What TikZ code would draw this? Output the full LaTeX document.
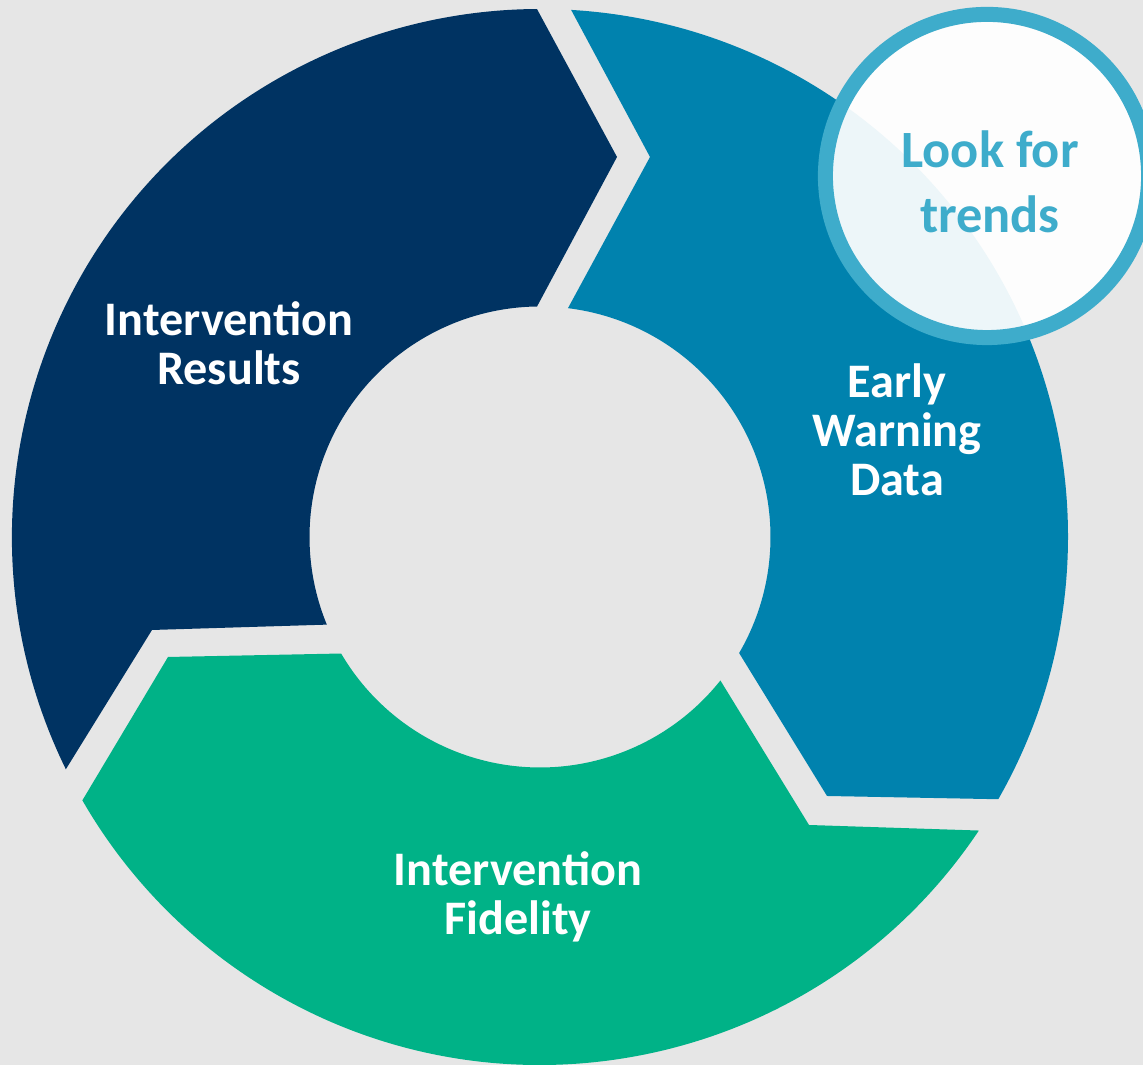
\documentclass[tikz,border=0pt]{standalone}
\usepackage{fontspec}
\setmainfont{Carlito}
\usepackage{tikz}
\usetikzlibrary{
  	positioning,
  	calc,
  	shapes
  }
\definecolor{bggray}{HTML}{E6E6E6}
\definecolor{resnavy}{HTML}{003362}
\definecolor{ewblue}{HTML}{0082AE}
\definecolor{fidgreen}{HTML}{00B287}
\definecolor{trendblue}{HTML}{3EACCB}

\begin{document}
\begin{tikzpicture}[x=.01cm, y=.01cm,
    every node/.style={font=\bfseries},
    steplabel/.style={text=white, align=center, font=\bfseries\fontsize{13.7}{13.9}\selectfont},
    trendring/.style={circle, draw=trendblue, line width=.15cm, fill=white, fill opacity=.93,
      minimum size=3.23cm},
    trendtext/.style={text=trendblue, align=center, font=\bfseries\fontsize{14.9}{18.6}\selectfont}]
	\useasboundingbox (0,0) rectangle (1143,1065);
	\fill[bggray] (0,0) rectangle (1143,1065);
	\coordinate (c) at (540,528);
%
	\coordinate (navytip) at (617,908);
	\coordinate (navytail) at (152,435);
	\fill[resnavy] ($(c)+(206.1:528)$) arc[start angle=206.1, end angle=90.33, radius=528]
		-- (navytip) -- ($(c)+(90.74:230.5)$) arc[start angle=90.74, end angle=202.35, radius=230.5]
		-- (navytail) -- cycle;
%
	\coordinate (bluetip) at (827,269);
	\coordinate (bluetail) at (650,908);
	\fill[ewblue] ($(c)+(86.62:528)$) arc[start angle=86.62, end angle=-29.78, radius=528]
		-- (bluetip) -- ($(c)+(-30.24:230.5)$) arc[start angle=-30.24, end angle=83.03, radius=230.5]
		-- (bluetail) -- cycle;
%
	\coordinate (greentip) at (168,408);
	\coordinate (greentail) at (809,240);
	\fill[fidgreen] ($(c)+(-33.78:528)$) arc[start angle=-33.78, end angle=-150.08, radius=528]
		-- (greentip) -- ($(c)+(-149.63:230.5)$) arc[start angle=-149.63, end angle=-38.5, radius=230.5]
		-- (greentail) -- cycle;
%
	\node[steplabel] (results) at (229,722) {Intervention\\Results};
	\node[steplabel] (warning) at (897,635) {Early\\Warning\\Data};
	\node[steplabel] (fidelity) at (518,168) {Intervention\\Fidelity};
%
	\node[trendring] (trendcircle) at (987,889) {};
	\node[trendtext] (trends) at ($(trendcircle)+(3,-6)$) {Look for\\trends};
\end{tikzpicture}
\end{document}
